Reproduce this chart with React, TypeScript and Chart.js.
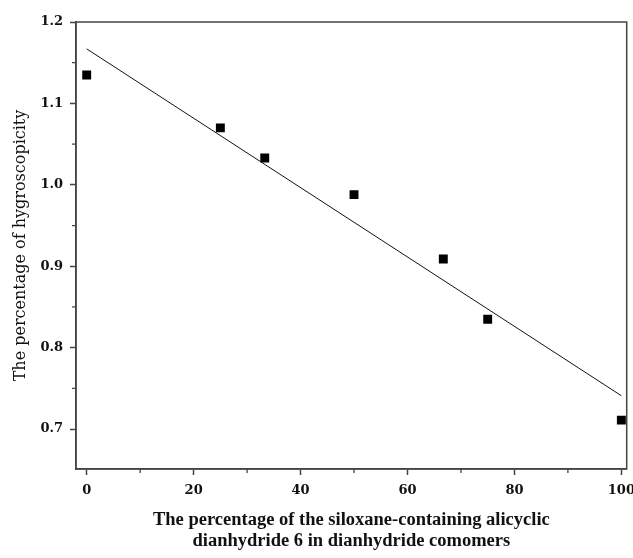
import React, { useEffect, useRef } from "react";
import { Chart, registerables } from "chart.js";

Chart.register(...registerables);

const xValues = [0, 25, 33.3, 50, 66.7, 75, 100];
const yValues = [1.135, 1.07, 1.033, 0.988, 0.909, 0.835, 0.711];
const fitX = [0, 100];
const fitY = [1.167, 0.741];
const xTicks = [0, 20, 40, 60, 80, 100];
const xMinorTicks = [10, 30, 50, 70, 90];
const yTicks = [0.7, 0.8, 0.9, 1.0, 1.1, 1.2];
const yMinorTicks = [0.75, 0.85, 0.95, 1.05, 1.15];
const xTitle = [
  "The percentage of the siloxane-containing alicyclic",
  "dianhydride 6 in dianhydride comomers",
];
const yTitle = "The percentage of hygroscopicity";

const AXIS_COLOR = "#444";

const framePlugin = {
  id: "frame",
  afterDraw(chart: any) {
    const { ctx, chartArea } = chart;
    const { left, top, right, bottom } = chartArea;
    ctx.save();
    ctx.strokeStyle = AXIS_COLOR;
    ctx.lineWidth = 1.5;
    ctx.strokeRect(left, top, right - left, bottom - top);
    const xs = chart.scales.x;
    const ys = chart.scales.y;
    ctx.lineWidth = 1.3;
    ctx.beginPath();
    xMinorTicks.forEach((v) => {
      const px = xs.getPixelForValue(v);
      ctx.moveTo(px, bottom);
      ctx.lineTo(px, bottom + 4);
    });
    yMinorTicks.forEach((v) => {
      const py = ys.getPixelForValue(v);
      ctx.moveTo(left, py);
      ctx.lineTo(left - 4, py);
    });
    ctx.stroke();
    ctx.restore();
  },
};

export default function App() {
  const ref = useRef<HTMLCanvasElement>(null);
  useEffect(() => {
    if (!ref.current) return;
    const chart = new Chart(ref.current, {
      type: "scatter",
      data: {
        datasets: [
          {
            type: "line",
            data: fitX.map((x, i) => ({ x, y: fitY[i] })),
            borderColor: "#111",
            borderWidth: 1,
            pointRadius: 0,
            fill: false,
          },
          {
            data: xValues.map((x, i) => ({ x, y: yValues[i] })),
            pointStyle: "rect",
            pointRadius: 6.3,
            pointBackgroundColor: "#000",
            pointBorderWidth: 0,
            borderColor: "#000",
          },
        ] as any,
      },
      options: {
        animation: false,
        responsive: false,
        layout: { padding: { top: 22, right: 6, left: 11, bottom: 0 } },
        plugins: {
          legend: { display: false },
          tooltip: { enabled: false },
        },
        scales: {
          x: {
            type: "linear",
            min: -2,
            max: 101,
            afterBuildTicks: (s: any) => {
              s.ticks = xTicks.map((v) => ({ value: v }));
            },
            afterFit: (s: any) => {
              s.height = 89;
              s.paddingLeft = 0;
              s.paddingRight = 0;
            },
            grid: {
              drawOnChartArea: false,
              drawTicks: true,
              tickLength: 6,
              tickColor: AXIS_COLOR,
              tickWidth: 1.5,
            },
            border: { display: true, color: AXIS_COLOR, width: 1.5 },
            ticks: {
              color: "#111",
              padding: 8,
              maxRotation: 0,
              font: { family: "'DejaVu Serif', serif", size: 13, weight: "bold" },
              callback: (v: any) => String(v),
            },
            title: {
              display: true,
              text: xTitle,
              color: "#111",
              padding: { top: 12, bottom: 6 },
              font: { family: "'Liberation Serif', 'DejaVu Serif', serif", size: 18.5, weight: "bold", lineHeight: 1.15 },
            },
          },
          y: {
            type: "linear",
            min: 0.651,
            max: 1.2,
            afterBuildTicks: (s: any) => {
              s.ticks = yTicks.map((v) => ({ value: v }));
            },
            afterFit: (s: any) => {
              s.width = 65;
              s.paddingTop = 0;
              s.paddingBottom = 0;
            },
            grid: {
              drawOnChartArea: false,
              drawTicks: true,
              tickLength: 6,
              tickColor: AXIS_COLOR,
              tickWidth: 1.5,
            },
            border: { display: true, color: AXIS_COLOR, width: 1.5 },
            ticks: {
              color: "#111",
              padding: 7,
              font: { family: "'DejaVu Serif', serif", size: 13, weight: "bold" },
              callback: (v: any) => Number(v).toFixed(1),
            },
            title: {
              display: true,
              text: yTitle,
              color: "#111",
              padding: { top: 0, bottom: 4 },
              font: { family: "'DejaVu Serif', serif", size: 16 },
            },
          },
        },
      },
      plugins: [framePlugin],
    });
    return () => chart.destroy();
  }, []);
  return (
    <div style={{ position: "fixed", left: 0, top: 0, width: 633, height: 558, background: "#fff" }}>
      <canvas ref={ref} width={633} height={558} />
    </div>
  );
}
